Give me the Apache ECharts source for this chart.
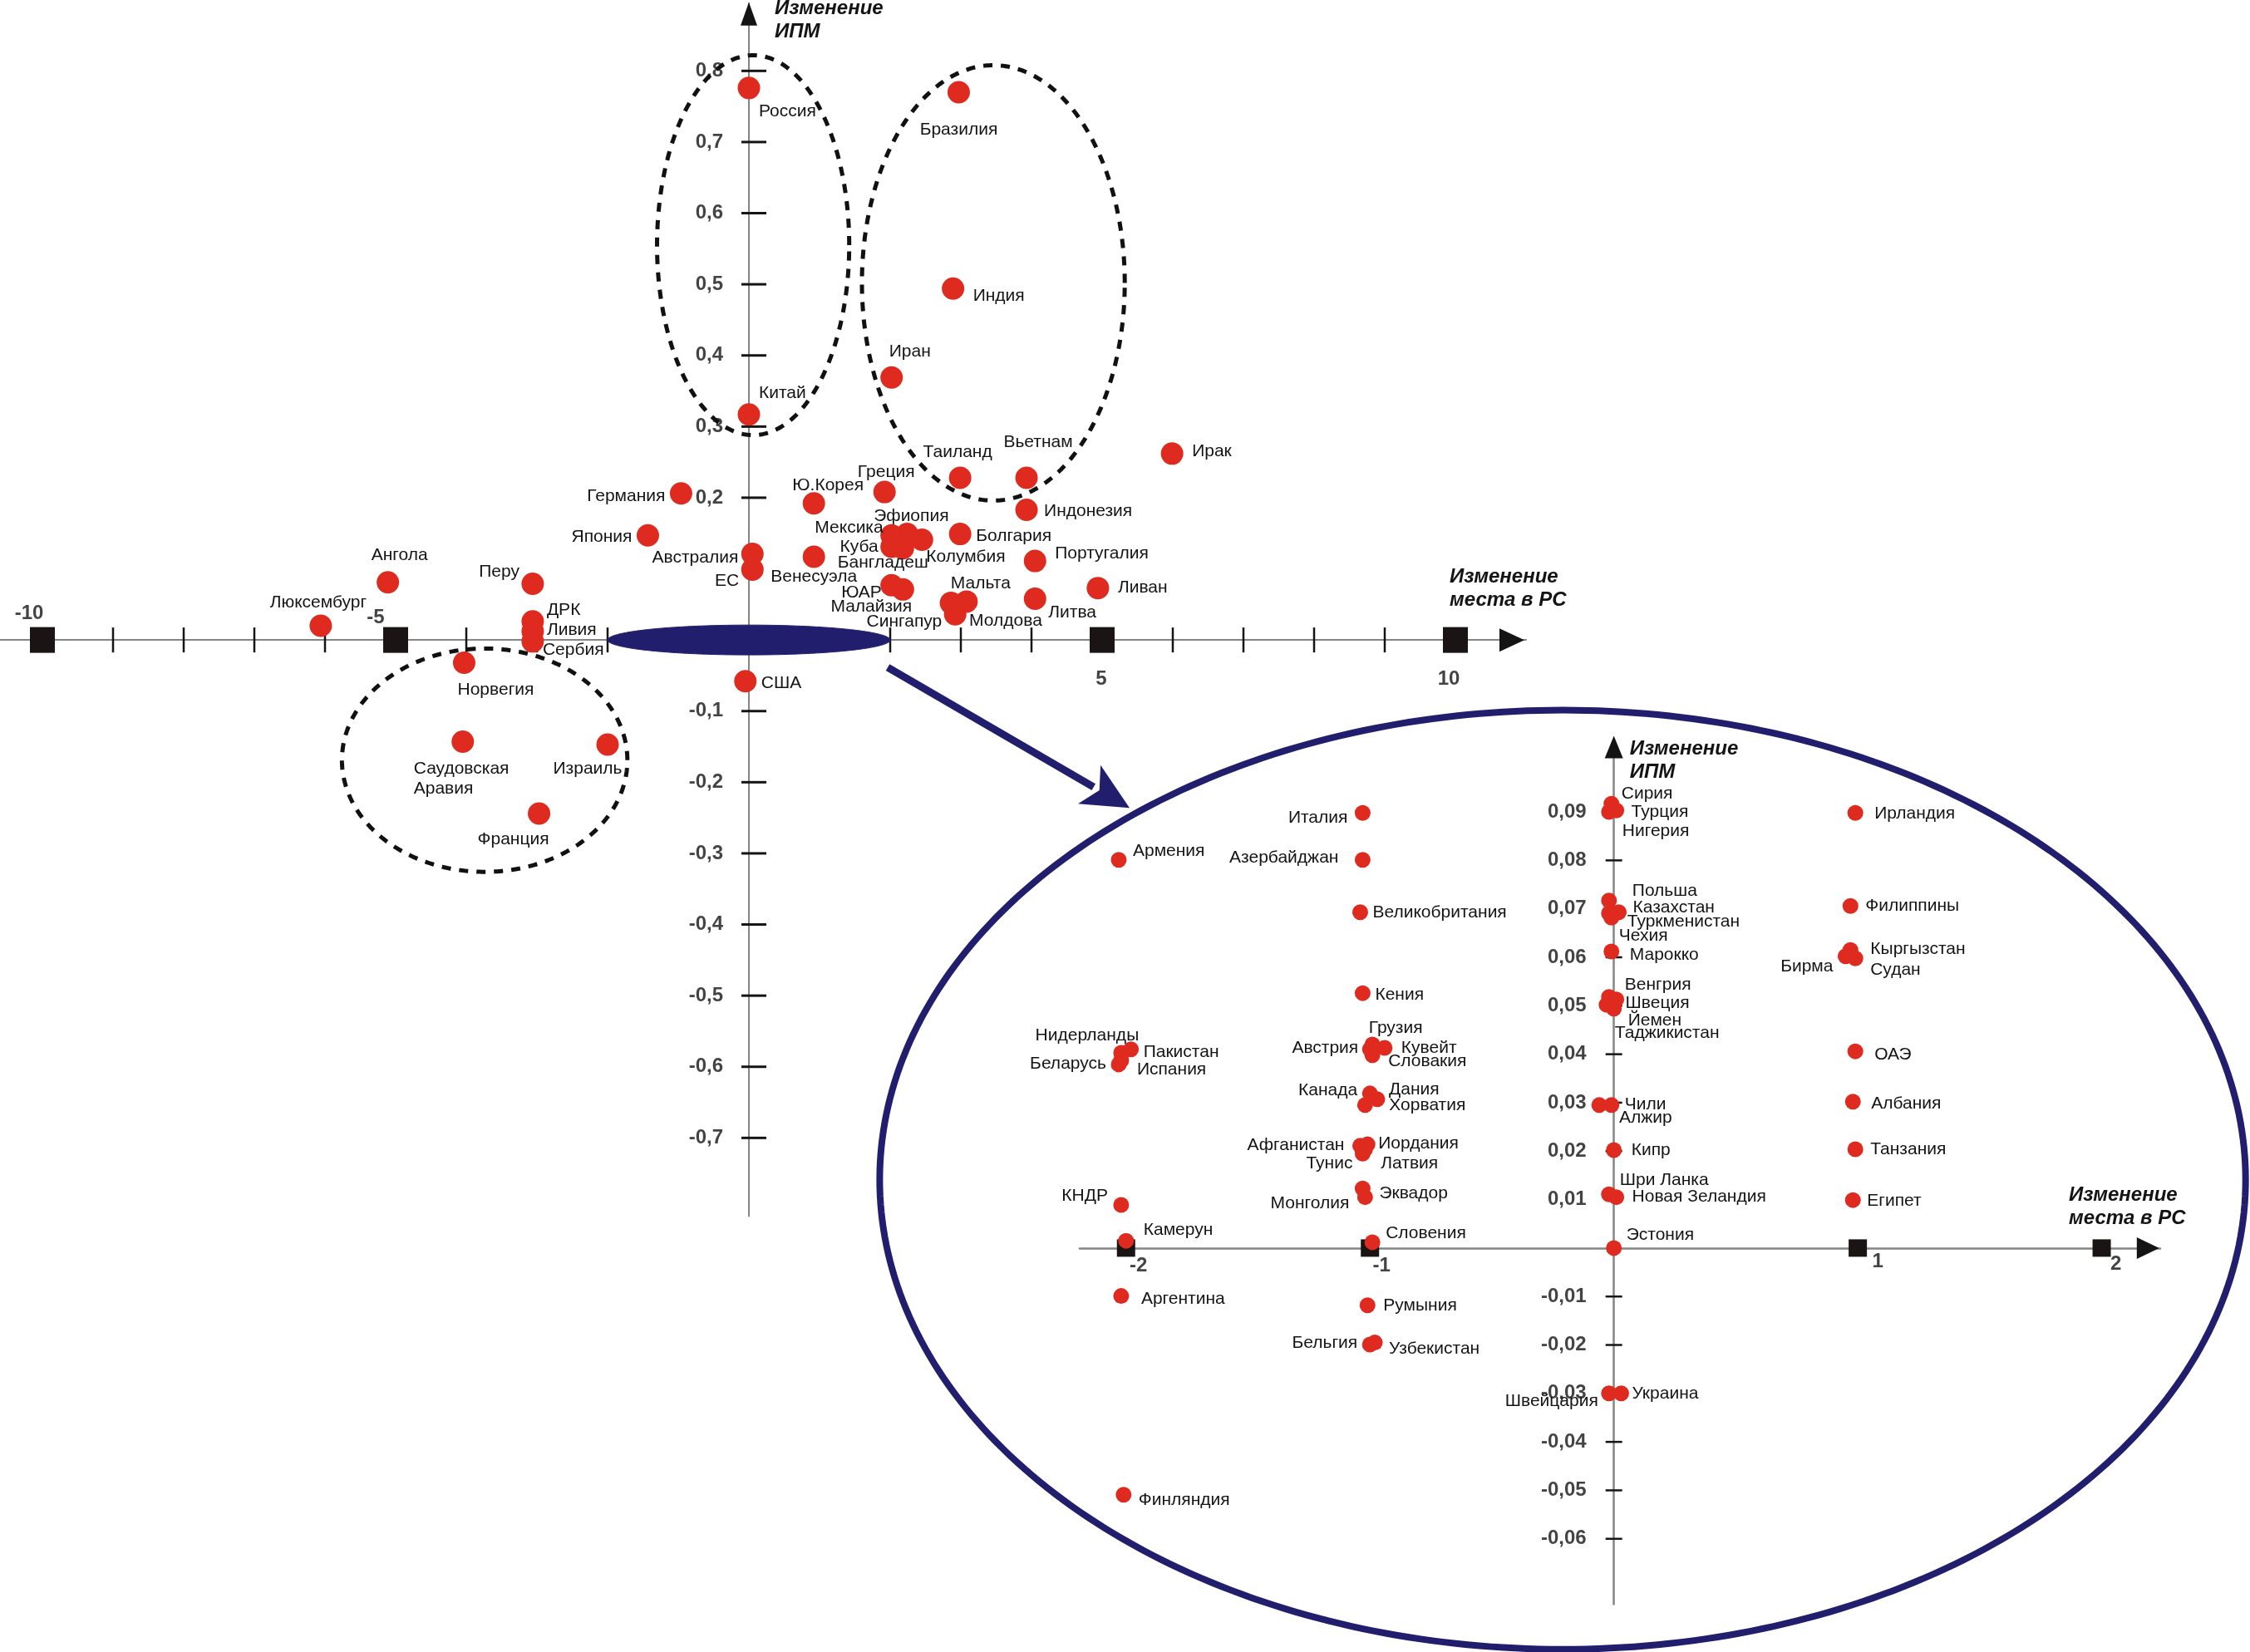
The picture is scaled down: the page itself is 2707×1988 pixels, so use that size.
<!DOCTYPE html>
<html><head><meta charset="utf-8">
<script src="https://cdn.jsdelivr.net/npm/echarts@6/dist/echarts.min.js"></script>
<style>html,body{margin:0;padding:0;background:#fff}#c{width:2707px;height:1988px}</style>
</head><body><div id="c"></div>
<script>
// ---------- DATA ----------
const mainCountries = ['Россия','Китай','Бразилия','Индия','Иран','Таиланд','Вьетнам','Ирак','Индонезия',
  'Германия','Япония','Ю.Корея','Греция','Эфиопия','Мексика','Куба','Бангладеш','Колумбия','Болгария',
  'Австралия','ЕС','Венесуэла','Португалия','ЮАР','Малайзия','Сингапур','Мальта','Молдова','Литва',
  'Ливан','Ангола','Люксембург','Перу','ДРК','Ливия','Сербия','Норвегия','Саудовская\nАравия','Израиль',
  'Франция','США'];
const mainRankChange = [0, 0, 2.97, 2.89, 2.02, 2.99, 3.93, 5.99, 3.93,
  -0.96, -1.43, 0.92, 1.92, 2.24, 2.02, 2.02, 2.18, 2.45, 2.99,
  0.05, 0.05, 0.92, 4.05, 2.02, 2.18, 2.92, 3.08, 2.86, 4.05,
  4.94, -5.11, -6.06, -3.06, -3.06, -3.06, -3.06, -4.03, -4.05, -2.0,
  -2.97, -0.05];
const mainHdiChange = [0.776, 0.317, 0.770, 0.494, 0.369, 0.228, 0.228, 0.262, 0.183,
  0.206, 0.147, 0.192, 0.208, 0.149, 0.147, 0.131, 0.129, 0.141, 0.149,
  0.121, 0.099, 0.117, 0.111, 0.077, 0.071, 0.036, 0.054, 0.052, 0.058,
  0.073, 0.081, 0.020, 0.079, 0.026, 0.012, -0.002, -0.032, -0.143, -0.147,
  -0.244, -0.058];

const insetCountries = ['Италия','Азербайджан','Армения','Великобритания','Кения','Грузия','Австрия','Кувейт','Словакия',
  'Канада','Дания','Хорватия','Афганистан','Иордания','Тунис','Латвия','Эквадор','Монголия','Словения','КНДР',
  'Камерун','Нидерланды','Пакистан','Беларусь','Испания','Аргентина','Румыния','Бельгия','Узбекистан','Финляндия',
  'Швейцария','Украина','Сирия','Турция','Нигерия','Польша','Казахстан','Туркменистан','Чехия','Марокко',
  'Венгрия','Швеция','Йемен','Таджикистан','Чили','Алжир','Кипр','Шри Ланка','Новая Зеландия','Эстония',
  'Ирландия','Филиппины','Кыргызстан','Бирма','Судан','ОАЭ','Албания','Танзания','Египет'];
const insetRankChange = [-1.03,-1.03,-2.03,-1.04,-1.03,-0.99,-1.0,-0.94,-0.99,
  -1.0,-0.97,-1.02,-1.04,-1.01,-1.03,-1.02,-1.03,-1.02,-0.99,-2.02,
  -2.0,-2.02,-1.98,-2.03,-2.02,-2.02,-1.01,-1.0,-0.98,-2.01,
  -0.02,0.03,-0.01,0.01,-0.02,-0.02,0.02,-0.01,-0.02,-0.01,
  -0.02,0.01,0.0,-0.03,-0.01,-0.06,0.0,-0.02,0.01,0.0,
  0.99,0.97,0.97,0.95,0.99,0.99,0.98,0.99,0.98];
const insetHdiChange = [0.0898,0.0801,0.0801,0.0693,0.0526,0.0420,0.0410,0.0413,0.0398,
  0.0319,0.0307,0.0295,0.0211,0.0214,0.0195,0.0204,0.0123,0.0105,0.0012,0.0089,
  0.0015,0.0403,0.0410,0.0379,0.0387,-0.0099,-0.0118,-0.0199,-0.0195,-0.0509,
  -0.030,-0.030,0.0917,0.0903,0.0900,0.0717,0.0693,0.0682,0.0691,0.0612,
  0.0518,0.0513,0.0494,0.0502,0.0295,0.0295,0.0202,0.0111,0.0105,0.0,
  0.0898,0.0706,0.0615,0.0602,0.0598,0.0406,0.0302,0.0204,0.0099];

// tick values / tick labels
const mainXMajorTicks = [-10, -5, 5, 10];
const mainXMinorTicks = [-9,-8,-7,-6,-4,-3,-2,-1,1,2,3,4,6,7,8,9];
const mainYTicks = [0.8,0.7,0.6,0.5,0.4,0.3,0.2,-0.1,-0.2,-0.3,-0.4,-0.5,-0.6,-0.7];
const insetXMajorTicks = [-2, -1, 1, 2];
const insetYTicks = [0.09,0.08,0.07,0.06,0.05,0.04,0.03,0.02,0.01,-0.01,-0.02,-0.03,-0.04,-0.05,-0.06];

// annotation shapes in data units: [cx, cy, rx, ry]
const mainGroupEllipses = [[0.06, 0.555, 1.36, 0.267], [3.46, 0.502, 1.86, 0.306], [-3.74, -0.169, 2.02, 0.157]];
const zoomEllipse = [[0, 0, 2.0, 0.021]];
const zoomArrow = [[1.965, -0.0386, 5.388, -0.236]];
const insetFrame = [[-0.21, 0.0141, 2.80, 0.0969]];

// ---------- LAYOUT / STYLE ----------
const FONT = "'Liberation Sans', Arial, sans-serif";
const RED = '#df2a20', NAVY = '#221e6e', AXIS = '#858585', INK = '#141414';
// label anchor [align, dx, dy] relative to dot centre (px)
const mainLabelLayout = {
  'Россия':['left',12,28],'Китай':['left',12,-26],'Бразилия':['center',0,45],'Индия':['left',24,9],
  'Иран':['left',-3,-31],'Таиланд':['center',-3,-31],'Вьетнам':['center',14,-43],'Ирак':['left',24,-3],
  'Индонезия':['left',21,2],'Германия':['right',-19,3],'Япония':['right',-19,2],'Ю.Корея':['center',17,-22],
  'Греция':['center',2,-24],'Эфиопия':['center',5,-21],'Мексика':['right',-10,-9],'Куба':['right',-16,0],
  'Бангладеш':['center',-24,17],'Колумбия':['left',5,21],'Болгария':['left',19,3],'Австралия':['right',-17,5],
  'ЕС':['right',-16,14],'Венесуэла':['center',0,24],'Португалия':['left',24,-9],'ЮАР':['right',-12,9],
  'Малайзия':['center',-38,21],'Сингапур':['right',-16,9],'Мальта':['left',-19,-22],'Молдова':['left',22,22],
  'Литва':['left',16,17],'Ливан':['left',24,0],'Ангола':['center',14,-33],'Люксембург':['center',-3,-28],
  'Перу':['right',-16,-14],'ДРК':['left',17,-14],'Ливия':['left',17,-2],'Сербия':['left',12,10],
  'Норвегия':['center',38,33],'Саудовская\nАравия':['left',-59,45],'Израиль':['center',-24,29],
  'Франция':['center',-31,31],'США':['left',19,2]
};
const insetLabelLayout = {
  'Италия':['right',-18,6],'Азербайджан':['right',-29,-3],'Армения':['left',17,-11],'Великобритания':['left',15,0],
  'Кения':['left',15,2],'Грузия':['center',28,-20],'Австрия':['right',-14,-2],'Кувейт':['left',20,0],
  'Словакия':['left',19,7],'Канада':['right',-15,-4],'Дания':['left',14,-12],'Хорватия':['left',29,0],
  'Афганистан':['right',-19,-1],'Иордания':['left',13,-1],'Тунис':['right',-12,12],'Латвия':['left',19,17],
  'Эквадор':['left',20,6],'Монголия':['right',-19,8],'Словения':['left',16,-11],'КНДР':['right',-16,-11],
  'Камерун':['left',21,-13],'Нидерланды':['center',-41,-21],'Пакистан':['left',15,3],'Беларусь':['right',-15,-1],
  'Испания':['left',19,11],'Аргентина':['left',24,4],'Румыния':['left',19,1],'Бельгия':['right',-15,-2],
  'Узбекистан':['left',17,8],'Финляндия':['left',18,6],'Швейцария':['right',-13,9],'Украина':['left',13,0],
  'Сирия':['left',12,-12],'Турция':['left',18,2],'Нигерия':['left',16,23],'Польша':['left',28,-12],
  'Казахстан':['left',17,-6],'Туркменистан':['left',19,5],'Чехия':['left',12,27],'Марокко':['left',22,4],
  'Венгрия':['left',19,-15],'Швеция':['left',11,4],'Йемен':['left',17,14],'Таджикистан':['left',10,34],
  'Чили':['left',16,-1],'Алжир':['left',24,15],'Кипр':['left',21,0],'Шри Ланка':['left',13,-17],
  'Новая Зеландия':['left',19,0],'Эстония':['left',15,-16],'Ирландия':['left',23,1],'Филиппины':['left',18,0],
  'Кыргызстан':['left',24,-1],'Бирма':['right',-15,12],'Судан':['left',18,14],'ОАЭ':['left',23,4],
  'Албания':['left',22,2],'Танзания':['left',18,0],'Египет':['left',17,1]
};
const mainXTickLabelLayout = {'-10':[-16,-32],'-5':[-24,-27],'5':[-1,47],'10':[-8,47]};
const insetXTickLabelLayout = {'-2':[15,21],'-1':[14,21],'1':[24,16],'2':[17,19]};

const fmt = v => String(v).replace('.', ',');

function pointSeries(names, xs, ys, layout, size, xi) {
  return {
    type: 'scatter', xAxisIndex: xi, yAxisIndex: xi, z: 6, clip: false,
    symbol: 'circle', symbolSize: size, itemStyle: { color: RED, opacity: 1 },
    data: names.map((n, i) => {
      const L = layout[n] || ['left', 15, 0];
      return { name: n, value: [xs[i], ys[i]],
        label: { show: true, formatter: '{b}', position: [size / 2 + L[1], size / 2 + L[2]],
          align: L[0], verticalAlign: 'middle', fontFamily: FONT, fontSize: 21, color: INK, lineHeight: 24 } };
    })
  };
}
function markSeries(xi, data, size, color, extra) {
  return Object.assign({ type: 'scatter', xAxisIndex: xi, yAxisIndex: xi, z: 3, clip: false, silent: true,
    symbol: 'rect', symbolSize: size, itemStyle: { color: color, opacity: 1 }, data: data }, extra || {});
}
// axis value labels drawn at (v,0) for x axes or (0,v) for y axes
function xTickLabelSeries(xi, vals, layout) {
  return { type: 'scatter', xAxisIndex: xi, yAxisIndex: xi, z: 6, clip: false, silent: true,
    symbol: 'rect', symbolSize: 2, itemStyle: { color: 'rgba(0,0,0,0)' },
    data: vals.map(v => ({ value: [v, 0], label: { show: true, formatter: fmt(v),
      position: [1 + layout[String(v)][0], 1 + layout[String(v)][1]], align: 'center', verticalAlign: 'middle',
      fontFamily: FONT, fontSize: 24, fontWeight: 'bold', color: INK } })) };
}
function yTickLabelSeries(xi, vals, dx) {
  return { type: 'scatter', xAxisIndex: xi, yAxisIndex: xi, z: 6, clip: false, silent: true,
    symbol: 'rect', symbolSize: 2, itemStyle: { color: 'rgba(0,0,0,0)' },
    data: vals.map(v => ({ value: [0, v], label: { show: true, formatter: fmt(v),
      position: [1 + dx, 1], align: 'right', verticalAlign: 'middle',
      fontFamily: FONT, fontSize: 24, fontWeight: 'bold', color: INK } })) };
}
function ellipsePts(api, v) {
  const pts = [];
  for (let i = 0; i < 360; i++) {
    const t = i / 360 * Math.PI * 2;
    pts.push(api.coord([v[0] + v[2] * Math.cos(t), v[1] + v[3] * Math.sin(t)]));
  }
  return pts;
}
function ellipseSeries(xi, data, style, z) {
  return { type: 'custom', xAxisIndex: xi, yAxisIndex: xi, z: z, clip: false, silent: true, data: data,
    renderItem: (p, api) => ({ type: 'polygon',
      shape: { points: ellipsePts(api, [api.value(0), api.value(1), api.value(2), api.value(3)]) },
      style: style }) };
}
const arrowSeries = { type: 'custom', xAxisIndex: 0, yAxisIndex: 0, z: 5, clip: false, silent: true, data: zoomArrow,
  renderItem: (p, api) => {
    const a = api.coord([api.value(0), api.value(1)]);
    const b = api.coord([api.value(2), api.value(3)]);
    const dx = b[0] - a[0], dy = b[1] - a[1], L = Math.hypot(dx, dy), ux = dx / L, uy = dy / L;
    const hl = 56, hw = 27;
    const bs = [b[0] - ux * hl, b[1] - uy * hl];
    return { type: 'group', children: [
      { type: 'line', shape: { x1: a[0], y1: a[1], x2: bs[0] + ux * 6, y2: bs[1] + uy * 6 }, style: { stroke: NAVY, lineWidth: 9 } },
      { type: 'polygon', shape: { points: [b, [bs[0] - uy * hw, bs[1] + ux * hw], [bs[0] + ux * 14, bs[1] + uy * 14], [bs[0] + uy * hw, bs[1] - ux * hw]] }, style: { fill: NAVY } }
    ] };
  } };

const titleStyle = { fontFamily: FONT, fontSize: 24, fontWeight: 'bold', fontStyle: 'italic', color: INK, lineHeight: 28 };

const option = {
  animation: false,
  backgroundColor: '#fff',
  grid: [
    { left: 0, top: 4, width: 1836, height: 1459.5, containLabel: false, outerBoundsMode: 'none', show: false },
    { left: 1299, top: 892.5, width: 1300, height: 1038, containLabel: false, outerBoundsMode: 'none', show: false }
  ],
  xAxis: [
    { gridIndex: 0, type: 'value', min: -10.6, max: 11, splitLine: { show: false },
      axisLine: { onZero: true, lineStyle: { color: AXIS, width: 2 } }, axisTick: { show: false }, axisLabel: { show: false },
      name: 'Изменение\nместа в РС', nameLocation: 'end', nameGap: -92, nameMoveOverlap: false,
      nameTextStyle: Object.assign({ align: 'left', verticalAlign: 'bottom', padding: [0, 0, 34, 0] }, titleStyle) },
    { gridIndex: 1, type: 'value', min: -2.19, max: 2.24, splitLine: { show: false },
      axisLine: { onZero: true, lineStyle: { color: AXIS, width: 2.5 } }, axisTick: { show: false }, axisLabel: { show: false },
      name: 'Изменение\nместа в РС', nameLocation: 'end', nameGap: -110, nameMoveOverlap: false,
      nameTextStyle: Object.assign({ align: 'left', verticalAlign: 'bottom', padding: [0, 0, 22, 0] }, titleStyle) }
  ],
  yAxis: [
    { gridIndex: 0, type: 'value', min: -0.81, max: 0.895, splitLine: { show: false },
      axisLine: { onZero: true, lineStyle: { color: AXIS, width: 2 } }, axisTick: { show: false }, axisLabel: { show: false },
      name: 'Изменение\nИПМ', nameLocation: 'end', nameGap: 8, nameMoveOverlap: false,
      nameTextStyle: Object.assign({ align: 'left', verticalAlign: 'top', padding: [0, 0, 0, 31] }, titleStyle) },
    { gridIndex: 1, type: 'value', min: -0.0735, max: 0.1045, splitLine: { show: false },
      axisLine: { onZero: true, lineStyle: { color: AXIS, width: 2.5 } }, axisTick: { show: false }, axisLabel: { show: false },
      name: 'Изменение\nИПМ', nameLocation: 'end', nameGap: 5.5, nameMoveOverlap: false,
      nameTextStyle: Object.assign({ align: 'left', verticalAlign: 'top', padding: [0, 0, 0, 19] }, titleStyle) }
  ],
  series: [
    ellipseSeries(0, mainGroupEllipses, { fill: 'none', stroke: '#111', lineWidth: 5, lineDash: [11, 10] }, 1),
    ellipseSeries(1, insetFrame, { fill: 'none', stroke: NAVY, lineWidth: 8 }, 1),
    // axis tick marks and unit squares
    markSeries(0, mainXMinorTicks.map(v => [v, 0]), [2.5, 30], INK),
    markSeries(0, mainYTicks.map(v => [0, v]), [30, 3], INK, { symbolOffset: [6, 0] }),
    markSeries(0, mainXMajorTicks.map(v => [v, 0]), [30, 31], '#1a1414'),
    markSeries(1, insetYTicks.map(v => [0, v]), [20, 2.5], INK),
    markSeries(1, insetXMajorTicks.map(v => [v, 0]), [22, 21], '#1a1414'),
    // axis arrows
    markSeries(0, [[10.8, 0]], [28, 30], INK, { symbol: 'triangle', symbolRotate: -90 }),
    markSeries(0, [[0, 0.88]], [20, 28], INK, { symbol: 'triangle' }),
    markSeries(1, [[2.19, 0]], [26, 27], INK, { symbol: 'triangle', symbolRotate: -90 }),
    markSeries(1, [[0, 0.1034]], [22, 27], INK, { symbol: 'triangle' }),
    xTickLabelSeries(0, mainXMajorTicks, mainXTickLabelLayout),
    xTickLabelSeries(1, insetXMajorTicks, insetXTickLabelLayout),
    yTickLabelSeries(0, mainYTicks, -31),
    yTickLabelSeries(1, insetYTicks, -33),
    ellipseSeries(0, zoomEllipse, { fill: NAVY, stroke: NAVY, lineWidth: 1 }, 5),
    arrowSeries,
    pointSeries(mainCountries, mainRankChange, mainHdiChange, mainLabelLayout, 27, 0),
    pointSeries(insetCountries, insetRankChange, insetHdiChange, insetLabelLayout, 19, 1)
  ]
};
const chart = echarts.init(document.getElementById('c'), null, { renderer: 'canvas' });
chart.setOption(option);
</script>
</body></html>
